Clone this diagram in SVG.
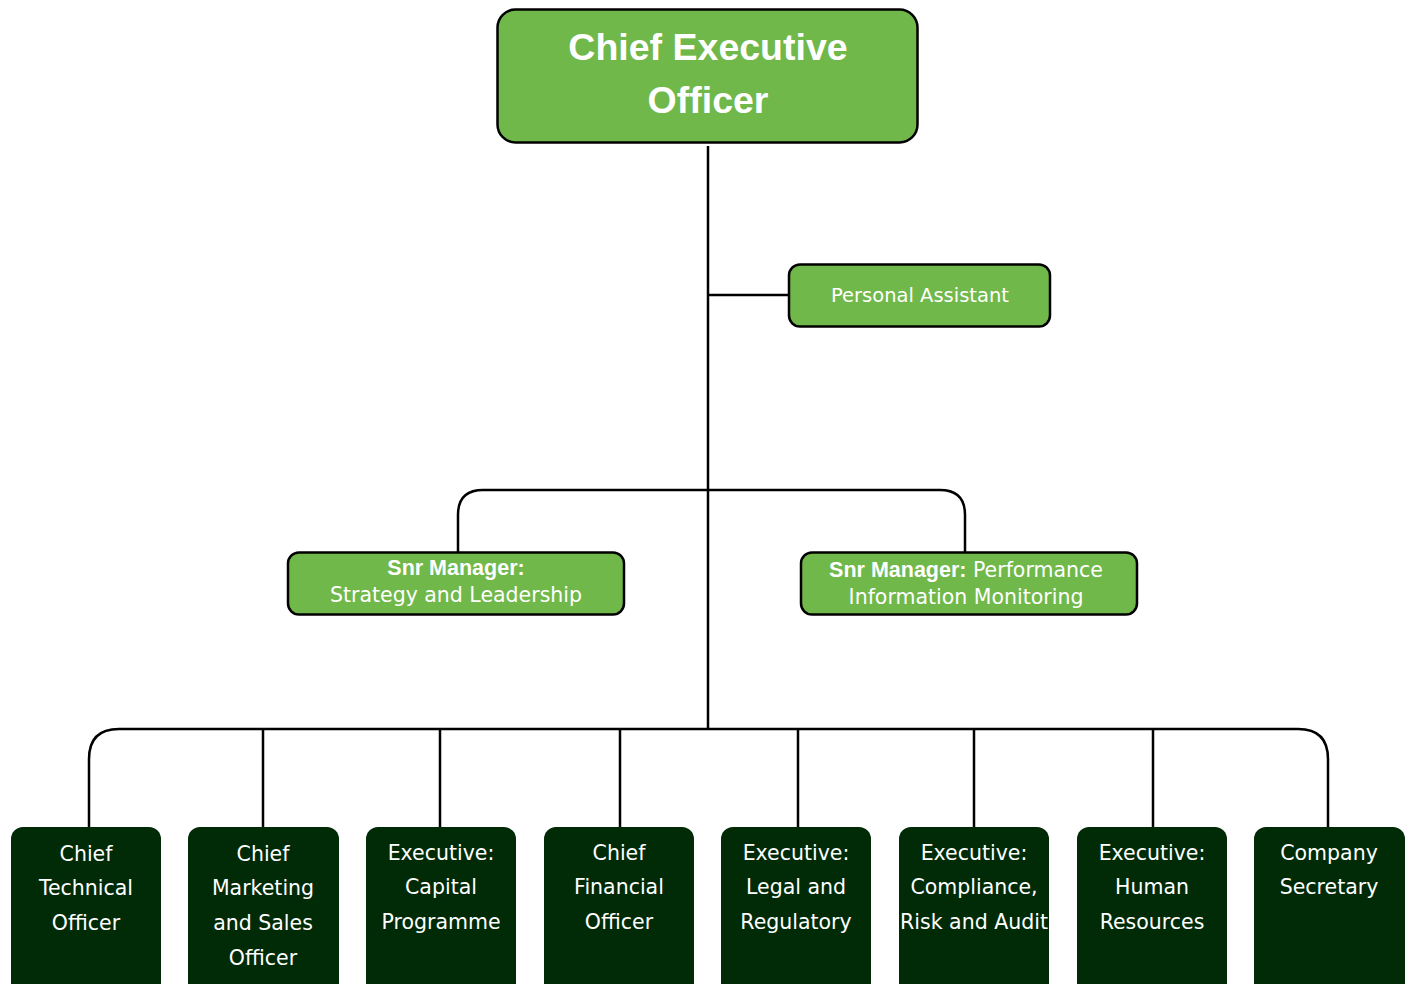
<svg xmlns="http://www.w3.org/2000/svg" width="1410" height="984" viewBox="0 0 1410 984">
<style>
.lg{fill:#70b84a;stroke:#000;stroke-width:2.5}
.dk{fill:#002b06}
.t{font-family:"DejaVu Sans","Liberation Sans",sans-serif;fill:#fff;text-anchor:middle}
.ceo{font-family:"Liberation Sans",Arial,sans-serif;font-size:37.5px;font-weight:bold}
.m{font-size:20.5px}
.pa{font-size:19.5px}
.b{font-family:"Liberation Sans",Arial,sans-serif;font-weight:bold;font-size:21.5px}
.c{fill:none;stroke:#000;stroke-width:2.5}
</style>
<rect width="1410" height="984" fill="#fff"/>
<g id="connectors">
<path class="c" d="M708 146V729"/>
<path class="c" d="M708 295H789"/>
<path class="c" d="M458 552V515Q458 490 483 490H940Q965 490 965 515V552"/>
<path class="c" d="M89 827V759Q89 729 119 729H1298Q1328 729 1328 759V827"/>
<path class="c" d="M263 729V827M440 729V827M620 729V827M798 729V827M974 729V827M1153 729V827"/>
</g>
<g id="ceo"><rect class="lg" x="497.5" y="9.5" width="420" height="133" rx="18" stroke-width="3"/>
<text class="t ceo" x="708" y="60">Chief Executive</text><text class="t ceo" x="708" y="113">Officer</text></g>
<g id="pa"><rect class="lg" x="789" y="264.5" width="261" height="62" rx="11"/>
<text class="t pa" x="920" y="302">Personal Assistant</text></g>
<g id="snr-strategy"><rect class="lg" x="288" y="552.5" width="336" height="62" rx="11"/>
<text class="t m" x="456" y="575"><tspan class="b">Snr Manager:</tspan></text>
<text class="t m" x="456" y="602">Strategy and Leadership</text></g>
<g id="snr-performance"><rect class="lg" x="801" y="552.5" width="336" height="62" rx="11"/>
<text class="t m" x="966" y="577"><tspan class="b">Snr Manager:</tspan> Performance</text>
<text class="t m" x="966" y="604">Information Monitoring</text></g>
<g id="cto"><rect class="dk" x="11" y="827" width="150" height="175" rx="12"/>
<text class="t m" x="86" y="861">Chief</text><text class="t m" x="86" y="895">Technical</text><text class="t m" x="86" y="930">Officer</text></g>
<g id="cmso"><rect class="dk" x="188" y="827" width="151" height="175" rx="12"/>
<text class="t m" x="263" y="861">Chief</text><text class="t m" x="263" y="895">Marketing</text><text class="t m" x="263" y="930">and Sales</text><text class="t m" x="263" y="965">Officer</text></g>
<g id="capital"><rect class="dk" x="366" y="827" width="150" height="175" rx="12"/>
<text class="t m" x="441" y="860">Executive:</text><text class="t m" x="441" y="894">Capital</text><text class="t m" x="441" y="929">Programme</text></g>
<g id="cfo"><rect class="dk" x="544" y="827" width="150" height="175" rx="12"/>
<text class="t m" x="619" y="860">Chief</text><text class="t m" x="619" y="894">Financial</text><text class="t m" x="619" y="929">Officer</text></g>
<g id="legal"><rect class="dk" x="721" y="827" width="150" height="175" rx="12"/>
<text class="t m" x="796" y="860">Executive:</text><text class="t m" x="796" y="894">Legal and</text><text class="t m" x="796" y="929">Regulatory</text></g>
<g id="compliance"><rect class="dk" x="899" y="827" width="150" height="175" rx="12"/>
<text class="t m" x="974" y="860">Executive:</text><text class="t m" x="974" y="894">Compliance,</text><text class="t m" x="974" y="929">Risk and Audit</text></g>
<g id="hr"><rect class="dk" x="1077" y="827" width="150" height="175" rx="12"/>
<text class="t m" x="1152" y="860">Executive:</text><text class="t m" x="1152" y="894">Human</text><text class="t m" x="1152" y="929">Resources</text></g>
<g id="cosec"><rect class="dk" x="1254" y="827" width="151" height="175" rx="12"/>
<text class="t m" x="1329" y="860">Company</text><text class="t m" x="1329" y="894">Secretary</text></g>
</svg>
